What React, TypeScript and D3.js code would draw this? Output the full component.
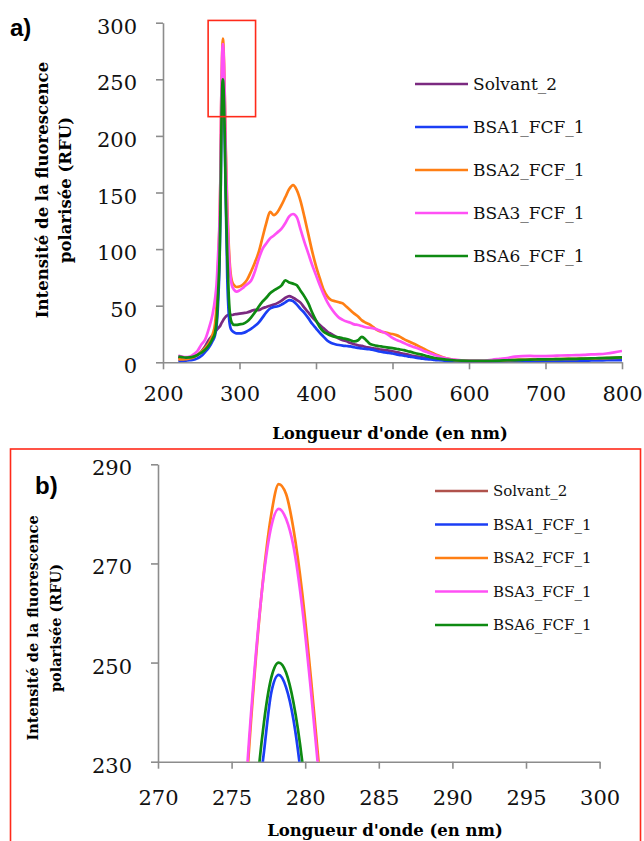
import React, { useEffect, useRef } from "react";
import * as d3 from "d3";

// wavelength grid (nm), denser around the 278 nm peak
const wavelengths = [
  220, 225, 230, 235, 240, 245, 250, 255, 260, 265, 268, 270, 272, 274, 275, 276, 276.6, 277.2, 277.7, 278.2,
  278.7, 279.2, 279.8, 280.4, 281, 282, 284, 286, 288, 290, 293, 296, 300,
  305, 310, 315, 320, 325, 330, 335, 340, 345, 350, 355, 360, 365, 370, 375, 380, 385, 390, 395, 400,
  405, 410, 415, 420, 425, 430, 435, 440, 445, 450, 455, 460, 465, 470, 475, 480, 485, 490, 495, 500,
  505, 510, 515, 520, 525, 530, 535, 540, 545, 550, 555, 560,
  570, 580, 590, 600, 610, 620, 630, 640, 650, 660, 670, 680, 690, 700, 710, 720, 730, 740, 750, 760,
  770, 780, 790, 800,
];

const solvant2 = [
  4, 3.5, 3.2, 3.5, 4.5, 6.5, 9.5, 14, 20, 24, 27, 28.5, 30, 31.5, 32.5, 34, 34.8, 35.5, 36, 36.6,
  37.2, 37.8, 38.4, 39, 39.6, 40.3, 41.5, 42, 42, 41.8, 42.3, 42.6, 43,
  43.5, 44, 45.2, 46.4, 46.1, 47.8, 48.9, 50, 51, 52.5, 54.5, 57, 58.5, 57, 55, 52.5, 48, 44, 40, 36.5,
  33, 30, 27, 25, 23, 21, 19.5, 18.5, 17, 16, 15, 14.5, 13.5, 13, 12.3, 11.8, 11.2, 10.8, 10.3, 9.8,
  9, 8.2, 7.5, 6.8, 6, 5.2, 4.6, 4.2, 3.8, 3.4, 3, 2.6,
  2, 1.6, 1.3, 1.1, 1, 0.9, 1, 1.2, 1.4, 1.5, 1.6, 1.7, 1.8, 1.9, 2, 2.1, 2.2, 2.4, 2.5, 2.6,
  2.8, 2.9, 3, 3.2,
];

const bsa1 = [
  1, 1.2, 1.5, 1.8, 2.2, 3.5, 5.5, 9, 13, 19, 24, 32, 52, 90, 128, 186, 216, 232, 244, 247.5,
  245, 238.5, 225, 206, 186, 145, 75, 42, 31, 28, 26.5, 25.5, 25.5,
  26, 27.5, 29.5, 32, 35, 39.5, 44, 47.5, 49, 49.5, 51, 53, 55, 54, 51, 47, 43.5, 39, 34, 30,
  26, 22.5, 19, 17, 16, 15.3, 14.8, 14.4, 14, 13.3, 12.8, 12.2, 11.8, 11.5, 11, 10, 9.3, 8.8, 8.2, 7.8,
  7, 6.4, 5.8, 5.3, 4.7, 4.2, 3.6, 3.2, 2.8, 2.5, 2.1, 1.8,
  1.3, 1, 0.8, 0.7, 0.6, 0.6, 0.7, 0.8, 0.9, 1, 1, 1.1, 1.1, 1.2, 1.3, 1.3, 1.4, 1.5, 1.5, 1.6,
  1.7, 1.8, 1.9, 2,
];

const bsa2 = [
  2.5, 2.5, 2.8, 3.3, 4.5, 6.5, 9, 12.5, 17, 25, 34, 50, 85, 125, 160, 224, 249, 268.5, 280, 286,
  284, 277, 264, 246.5, 227, 190, 138, 103, 81, 72, 68, 66.5, 67,
  69, 73, 80, 88, 97, 110, 123, 133, 130, 133, 139, 146, 153, 156.5, 152, 142, 128, 113, 98, 85,
  74, 64, 58, 55, 54, 53, 52, 49, 46, 43, 40.5, 37, 35, 33.5, 31, 28.5, 27, 26.5, 25.5, 25,
  24, 22.5, 20.5, 18.8, 17.2, 15.8, 14, 12.3, 10.5, 9, 7.4, 6,
  3.6, 2.2, 1.5, 1.2, 1, 1.1, 1.3, 1.6, 1.9, 2.2, 2.4, 2.5, 2.6, 2.7, 2.8, 2.9, 3, 3.1, 3.3, 3.4,
  3.6, 3.7, 3.9, 4.1,
];

const bsa3 = [
  6, 5, 4.5, 5, 7, 10, 15.5, 20, 30, 43, 56, 69, 95, 128, 162, 226, 250, 268, 277.5, 281,
  279, 273.5, 261, 244, 225, 185, 132, 98, 77, 68, 64, 62.5, 63.5,
  66, 69, 72, 80, 91, 100, 105, 109.5, 112, 115, 118, 123, 129, 131, 128, 117, 106, 96, 86, 77,
  68, 60, 53, 47.5, 43, 39.5, 37.5, 36, 35, 33.5, 33, 32, 31, 30.5, 30, 29, 27.5, 26, 24, 21.5,
  19.8, 18.5, 17, 15.5, 14.2, 13, 11.8, 10.3, 9, 7.7, 6.4, 5.3,
  3.5, 2.4, 1.8, 1.5, 1.4, 1.6, 2.2, 3, 3.8, 5, 5.5, 5.6, 5.4, 5.5, 5.7, 6, 6.2, 6.3, 6.6, 7,
  7.2, 7.8, 8.8, 10,
];

const bsa6 = [
  5, 4.5, 4.2, 4.3, 5, 6.5, 8.5, 11, 15, 21, 26, 36, 61, 95, 132, 190, 220, 238, 247, 250,
  248, 242, 230, 212, 192, 150, 95, 58, 40, 35, 33, 33, 33.5,
  34, 36, 39.5, 44, 49, 53.5, 57, 61, 63.5, 65.5, 68, 72.5, 70.5, 69.5, 68, 63, 58, 52, 44, 37,
  31, 27, 25, 23.5, 22.5, 22, 21.2, 20.5, 19.5, 18.5, 19.5, 22.5, 20, 16.5, 15.3, 14.5, 14, 13.5, 13, 12.5,
  12, 11.3, 10.8, 9.8, 9, 8, 7.2, 6.4, 5.5, 4.6, 3.8, 3.2,
  2.3, 1.8, 1.5, 1.3, 1.2, 1.2, 1.3, 1.5, 1.8, 2, 2.2, 2.4, 2.5, 2.6, 2.7, 2.8, 3, 3.1, 3.3, 3.5,
  3.7, 3.9, 4.1, 4.4,
];

const seriesNames = ["Solvant_2", "BSA1_FCF_1", "BSA2_FCF_1", "BSA3_FCF_1", "BSA6_FCF_1"];
const seriesValues = [solvant2, bsa1, bsa2, bsa3, bsa6];
const topColors = ["#7b2a80", "#1b3ef5", "#ff7f14", "#ff50f5", "#0e8a12"];
const bottomColors = ["#b0524c", "#1b3ef5", "#ff7f14", "#ff50f5", "#0e8a12"];

const topXTicks = [200, 300, 400, 500, 600, 700, 800];
const topYTicks = [0, 50, 100, 150, 200, 250, 300];
const bottomXTicks = [270, 275, 280, 285, 290, 295, 300];
const bottomYTicks = [230, 250, 270, 290];

// zoom window drawn on panel a (nm, RFU)
const zoomWindow = { x0: 259, x1: 321, y0: 217, y1: 302 };

const xTitle = "Longueur d'onde (en nm)";
const yTitle1 = "Intensité de la fluorescence";
const yTitle2 = "polarisée (RFU)";

const SERIF = "'DejaVu Serif', serif";
const AXIS_GREY = "#8c8c8c";

const topPanel = {
  id: "a",
  xDomain: [200, 800],
  xRange: [163, 622],
  yDomain: [0, 300],
  yRange: [362.3, 22.7],
  xTicks: topXTicks,
  yTicks: topYTicks,
  xPad: 17,
  colors: topColors,
  legend: { x: 415, y: 84, gap: 43, size: 17 },
  label: { text: "a)", x: 10, y: 36 },
  xTitlePos: [390, 439],
  yTitlePos: [48, 71, 190],
  yTitleSize: 16.5,
  zoom: true,
};

const bottomPanel = {
  id: "b",
  xDomain: [270, 300],
  xRange: [158, 599.6],
  yDomain: [230, 290],
  yRange: [761.7, 464.3],
  xTicks: bottomXTicks,
  yTicks: bottomYTicks,
  xPad: 21,
  colors: bottomColors,
  legend: { x: 435, y: 491, gap: 33.5, size: 15 },
  label: { text: "b)", x: 35, y: 494 },
  xTitlePos: [385, 836],
  yTitlePos: [38, 61, 628],
  yTitleSize: 14.5,
  zoom: false,
};

const drawPanel = (svg, p) => {
  const x = d3.scaleLinear().domain(p.xDomain).range(p.xRange);
  const y = d3.scaleLinear().domain(p.yDomain).range(p.yRange);
  const g = svg.append("g");

  // axes
  const yAxis = g
    .append("g")
    .attr("transform", `translate(${p.xRange[0]},0)`)
    .call(d3.axisLeft(y).tickValues(p.yTicks).tickSize(7).tickSizeOuter(0).tickPadding(19).tickFormat(d3.format("d")));
  const xAxis = g
    .append("g")
    .attr("transform", `translate(0,${p.yRange[0]})`)
    .call(d3.axisBottom(x).tickValues(p.xTicks).tickSize(7).tickSizeOuter(0).tickPadding(p.xPad).tickFormat(d3.format("d")));

  [xAxis, yAxis].forEach((ax) => {
    ax.attr("font-family", SERIF).attr("font-size", 21);
    ax.select(".domain").attr("stroke", AXIS_GREY).attr("stroke-width", 1.6);
    ax.selectAll(".tick line").attr("stroke", AXIS_GREY).attr("stroke-width", 1.6);
    ax.selectAll(".tick text").attr("fill", "#111");
  });
  yAxis.selectAll(".tick text").attr("dy", "0.5em");

  // series
  const clipId = `clip-${p.id}`;
  g.append("clipPath")
    .attr("id", clipId)
    .append("rect")
    .attr("x", p.xRange[0])
    .attr("y", p.yRange[1] - 10)
    .attr("width", p.xRange[1] - p.xRange[0])
    .attr("height", p.yRange[0] - p.yRange[1] + 10);

  const line = d3
    .line()
    .x((d) => x(d[0]))
    .y((d) => y(d[1]))
    .curve(d3.curveMonotoneX);

  const lines = g.append("g").attr("clip-path", `url(#${clipId})`);
  seriesValues.forEach((vals, i) => {
    lines
      .append("path")
      .datum(wavelengths.map((w, j) => [w, vals[j]]))
      .attr("fill", "none")
      .attr("stroke", p.colors[i])
      .attr("stroke-width", 2.7)
      .attr("stroke-linejoin", "round")
      .attr("d", line);
  });

  // red box showing the zoomed region
  if (p.zoom) {
    g.append("rect")
      .attr("x", x(zoomWindow.x0))
      .attr("y", y(zoomWindow.y1))
      .attr("width", x(zoomWindow.x1) - x(zoomWindow.x0))
      .attr("height", y(zoomWindow.y0) - y(zoomWindow.y1))
      .attr("fill", "none")
      .attr("stroke", "#ff2a1a")
      .attr("stroke-width", 1.6);
  }

  // legend
  const lg = g.append("g");
  seriesNames.forEach((name, i) => {
    const ly = p.legend.y + i * p.legend.gap;
    lg.append("line")
      .attr("x1", p.legend.x)
      .attr("x2", p.legend.x + 53)
      .attr("y1", ly)
      .attr("y2", ly)
      .attr("stroke", p.colors[i])
      .attr("stroke-width", 2.7);
    lg.append("text")
      .attr("x", p.legend.x + 58)
      .attr("y", ly)
      .attr("dy", "0.36em")
      .attr("font-family", SERIF)
      .attr("font-size", p.legend.size)
      .attr("fill", "#111")
      .text(name);
  });

  // titles
  g.append("text")
    .attr("x", p.xTitlePos[0])
    .attr("y", p.xTitlePos[1])
    .attr("text-anchor", "middle")
    .attr("font-family", SERIF)
    .attr("font-weight", "bold")
    .attr("font-size", 16.5)
    .text(xTitle);

  [yTitle1, yTitle2].forEach((t, i) => {
    g.append("text")
      .attr("transform", `translate(${p.yTitlePos[i]},${p.yTitlePos[2]}) rotate(-90)`)
      .attr("text-anchor", "middle")
      .attr("font-family", SERIF)
      .attr("font-weight", "bold")
      .attr("font-size", p.yTitleSize)
      .text(t);
  });

  g.append("text")
    .attr("x", p.label.x)
    .attr("y", p.label.y)
    .attr("font-family", "'Liberation Sans', Arial, sans-serif")
    .attr("font-weight", "bold")
    .attr("font-size", 24)
    .text(p.label.text);
};

const App = () => {
  const chartRef = useRef(null);

  useEffect(() => {
    const svg = d3.select(chartRef.current);
    svg.selectAll("*").remove();

    // frame around panel b
    svg
      .append("rect")
      .attr("x", 10.5)
      .attr("y", 449)
      .attr("width", 630)
      .attr("height", 420)
      .attr("fill", "none")
      .attr("stroke", "#ff2a1a")
      .attr("stroke-width", 1.6);

    drawPanel(svg, topPanel);
    drawPanel(svg, bottomPanel);
  }, []);

  return (
    <svg
      ref={chartRef}
      width={644}
      height={841}
      style={{ position: "absolute", left: 0, top: 0, background: "#fff" }}
    ></svg>
  );
};

export default App;
